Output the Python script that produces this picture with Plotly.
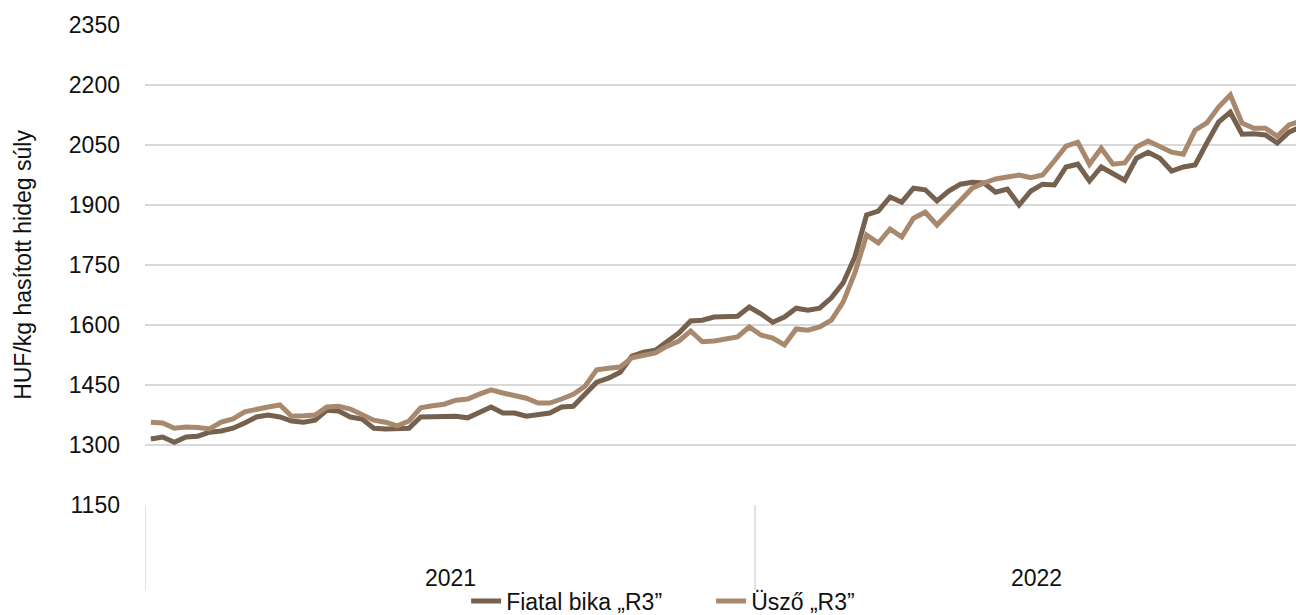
import plotly.graph_objects as go

# Weekly carcass prices (HUF/kg)
years = ['2021', '2022']
bika_2021 = [1315, 1320, 1307, 1320, 1322, 1332, 1335, 1342, 1355, 1370, 1375, 1370, 1360,
             1357, 1362, 1387, 1385, 1370, 1365, 1342, 1340, 1340, 1342, 1370, 1370, 1370,
             1372, 1368, 1382, 1395, 1380, 1380, 1372, 1377, 1380, 1395, 1397, 1427, 1457,
             1467, 1482, 1522, 1532, 1537, 1557, 1580, 1610, 1612, 1620, 1620, 1622, 1645]
bika_2022 = [1628, 1607, 1620, 1642, 1637, 1642, 1668, 1705, 1770, 1875, 1885, 1920, 1907,
             1942, 1938, 1910, 1935, 1952, 1957, 1955, 1932, 1940, 1900, 1935, 1952, 1950,
             1995, 2002, 1960, 1995, 1980, 1962, 2017, 2032, 2017, 1985, 1995, 2000, 2055,
             2107, 2132, 2077, 2078, 2075, 2055, 2082, 2095]
uszo_2021 = [1357, 1355, 1342, 1345, 1344, 1340, 1357, 1365, 1383, 1390, 1395, 1400, 1372,
             1373, 1375, 1395, 1397, 1390, 1375, 1362, 1357, 1348, 1360, 1393, 1398, 1402,
             1412, 1415, 1427, 1438, 1430, 1425, 1417, 1405, 1405, 1415, 1427, 1447, 1488,
             1492, 1495, 1518, 1523, 1530, 1547, 1560, 1585, 1558, 1560, 1565, 1570, 1595]
uszo_2022 = [1575, 1567, 1550, 1590, 1587, 1595, 1612, 1657, 1730, 1825, 1805, 1840, 1820,
             1867, 1882, 1850, 1882, 1912, 1942, 1955, 1965, 1970, 1975, 1968, 1975, 2010,
             2047, 2057, 2002, 2042, 2002, 2005, 2045, 2060, 2045, 2032, 2027, 2087, 2105,
             2145, 2175, 2105, 2092, 2092, 2072, 2100, 2110]
weeks_2022_total = 48  # the 2022 block runs a bit past the right edge of the picture

bika = bika_2021 + bika_2022
uszo = uszo_2021 + uszo_2022
x = list(range(len(bika)))
n21 = len(bika_2021)

DARK = '#76614f'
LIGHT = '#a9896e'
GRID = '#d9d9d9'
FONT = 'Liberation Sans, Arial, sans-serif'
FS = 23

fig = go.Figure()
fig.add_trace(go.Scatter(x=x, y=bika, mode='lines', name='Fiatal bika „R3”',
                         line=dict(color=DARK, width=5)))
fig.add_trace(go.Scatter(x=x, y=uszo, mode='lines', name='Üsző „R3”',
                         line=dict(color=LIGHT, width=5)))

# year separators below the axis
for xb in [-0.5, n21 - 0.5]:
    fig.add_shape(type='line', xref='x', yref='paper', x0=xb, x1=xb, y0=0, y1=-0.177,
                  line=dict(color=GRID, width=1.5))

# year labels in the middle of each block
centers = [(n21 - 1) / 2, n21 - 0.5 + weeks_2022_total / 2]
for yr, c in zip(years, centers):
    fig.add_annotation(x=c, y=-0.152, xref='x', yref='paper', text=yr, showarrow=False,
                       yanchor='middle', font=dict(size=FS, color='#111', family=FONT))

fig.update_layout(
    width=1296, height=615,
    margin=dict(l=145, r=0, t=25, b=110, autoexpand=False),
    plot_bgcolor='white', paper_bgcolor='white',
    font=dict(family=FONT, size=FS, color='#111'),
    showlegend=True,
    legend=dict(orientation='h', x=0.279, xanchor='left', y=-0.2, yanchor='middle',
                font=dict(size=FS), tracegroupgap=0, entrywidth=200,
                bgcolor='rgba(0,0,0,0)'),
)
fig.update_xaxes(range=[-0.5, 97.6], showgrid=False, zeroline=False, showticklabels=False,
                 showline=False, automargin=False)
fig.update_yaxes(range=[1150, 2350], dtick=150, tick0=1150, showgrid=True, gridcolor=GRID,
                 gridwidth=1.5, zeroline=False, showline=False, ticklabelstandoff=24,
                 automargin=False,
                 title=dict(text='HUF/kg hasított hideg súly', standoff=30,
                            font=dict(size=FS)))

fig.write_html('out.html', config={'displayModeBar': False},
               post_script="document.body.style.margin='0';")
